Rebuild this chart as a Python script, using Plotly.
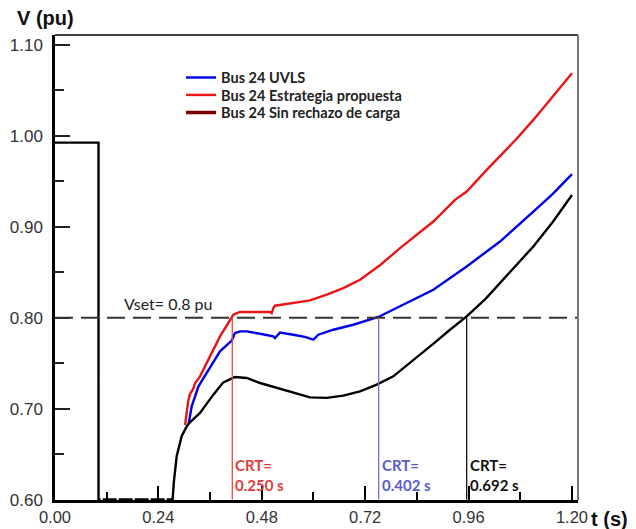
import plotly.graph_objects as go

# ---------------- data ----------------
series_names = ["Bus 24 UVLS", "Bus 24 Estrategia propuesta", "Bus 24 Sin rechazo de carga"]

t_sin = [0.0, 0.101, 0.101, 0.273, 0.276, 0.2825, 0.294, 0.3057, 0.3134, 0.3366, 0.3675,
         0.383, 0.3907, 0.4178, 0.445, 0.4759, 0.5146, 0.5532, 0.5919, 0.6307, 0.6692,
         0.708, 0.7467, 0.7853, 0.824, 0.8473, 0.880, 0.9169, 0.9556, 1.000, 1.033,
         1.070, 1.1103, 1.155, 1.200]
v_sin = [0.9926, 0.9926, 0.600, 0.600, 0.620, 0.6476, 0.6696, 0.6805, 0.685, 0.6953, 0.7154,
         0.7245, 0.7289, 0.7348, 0.7337, 0.7282, 0.7227, 0.7172, 0.7124, 0.7118, 0.7143,
         0.719, 0.7264, 0.7355, 0.7502, 0.7593, 0.772, 0.7868, 0.8014, 0.821, 0.8381,
         0.857, 0.8784, 0.905, 0.935]

t_prop = [0.302, 0.306, 0.309, 0.3134, 0.3209, 0.325, 0.3366, 0.3598, 0.383, 0.4023, 0.4139,
          0.4294, 0.465, 0.4991, 0.503, 0.507, 0.5107, 0.5532, 0.5919, 0.6307, 0.6692,
          0.708, 0.755, 0.8009, 0.8782, 0.9285, 0.9556, 1.002, 1.033, 1.070, 1.1103,
          1.155, 1.200]
v_prop = [0.682, 0.695, 0.708, 0.716, 0.722, 0.728, 0.7355, 0.7575, 0.7795, 0.7942, 0.8033,
          0.8063, 0.806, 0.8063, 0.805, 0.811, 0.8132, 0.8162, 0.819, 0.8253, 0.8326,
          0.8418, 0.858, 0.8766, 0.9058, 0.9297, 0.9388, 0.9626, 0.9773, 0.996, 1.0176,
          1.043, 1.069]

t_uvls = [0.310, 0.3173, 0.333, 0.3443, 0.3598, 0.383, 0.4025, 0.4102, 0.4140, 0.4178, 0.430,
          0.445, 0.4759, 0.5067, 0.5107, 0.5223, 0.5532, 0.580, 0.5996, 0.6112, 0.646,
          0.6924, 0.7505, 0.8009, 0.8473, 0.8782, 0.9556, 1.033, 1.1103, 1.155, 1.200]
v_uvls = [0.683, 0.7025, 0.7245, 0.733, 0.7447, 0.763, 0.7715, 0.7747, 0.779, 0.7832, 0.785,
          0.785, 0.7824, 0.7795, 0.7777, 0.7838, 0.7813, 0.779, 0.7758, 0.7813, 0.7868,
          0.7923, 0.8008, 0.8124, 0.8234, 0.8308, 0.8564, 0.8838, 0.9168, 0.936, 0.958]

v_set = 0.8
vset_label = "Vset= 0.8 pu"
crt_cross_t = [0.4115, 0.7513, 0.9556]
crt_labels = ["0.250 s", "0.402 s", "0.692 s"]
crt_colors = ["#e23b3b", "#5b5bd0", "#111111"]
crt_line_colors = ["#e24a4a", "#7474c4", "#111111"]

# ---------------- styles ----------------
c_blue = "rgb(0,0,230)"
c_red = "rgb(232,22,22)"
c_maroon = "#7a0000"
c_black = "#000000"
lab_font = "Lato, 'Open Sans', sans-serif"
tick_font = "'Liberation Sans', Arial, sans-serif"

fig = go.Figure()
fig.add_trace(go.Scatter(x=t_prop, y=v_prop, mode="lines", name=series_names[1],
                         line=dict(color=c_red, width=2.4), legend="legend2"))
fig.add_trace(go.Scatter(x=t_uvls, y=v_uvls, mode="lines", name=series_names[0],
                         line=dict(color=c_blue, width=2.4), legend="legend"))
fig.add_trace(go.Scatter(x=t_sin, y=v_sin, mode="lines", name=series_names[2],
                         line=dict(color=c_black, width=2.4), showlegend=False))
# legend entry drawn in maroon as in the original figure
fig.add_trace(go.Scatter(x=[None], y=[None], mode="lines", name=series_names[2],
                         line=dict(color=c_maroon, width=3.5), legend="legend3"))

shapes = []
shapes.append(dict(type="line", xref="paper", yref="y", x0=0, x1=1, y0=v_set, y1=v_set,
                   line=dict(color="#333333", width=1.8, dash="18px,8px")))
for t, lc in zip(crt_cross_t, crt_line_colors):
    shapes.append(dict(type="line", xref="x", yref="y", x0=t, x1=t, y0=0.6, y1=v_set,
                       line=dict(color=lc, width=1.3)))
shapes.append(dict(type="line", xref="paper", yref="paper", x0=0, x1=1, y0=1, y1=1,
                   line=dict(color="#000000", width=1.6)))
shapes.append(dict(type="line", xref="paper", yref="paper", x0=1, x1=1, y0=0, y1=1,
                   line=dict(color="#777777", width=2)))
shapes.append(dict(type="line", xref="x", yref="y", x0=0.106, x1=0.268, y0=0.6, y1=0.6,
                   layer="above", line=dict(color="white", width=4, dash="2px,14px")))

annotations = []
annotations.append(dict(text="<b>V (pu)</b>", xref="paper", yref="paper", x=-0.0765, y=1.037,
                        xanchor="left", yanchor="middle", showarrow=False,
                        font=dict(family=tick_font, size=20, color="#111")))
annotations.append(dict(text="<b>t (s)</b>", xref="paper", yref="paper", x=1.021, y=-0.041,
                        xanchor="left", yanchor="middle", showarrow=False,
                        font=dict(family=tick_font, size=20, color="#111")))
annotations.append(dict(text=vset_label, xref="x", yref="y", x=0.2634, y=v_set,
                        xanchor="center", yanchor="middle", yshift=14, showarrow=False,
                        font=dict(family=lab_font, size=16, color="#222")))
for t, lab, col in zip(crt_cross_t, crt_labels, crt_colors):
    annotations.append(dict(text="<b>CRT=<br>" + lab + "</b>", xref="x", yref="y", x=t, y=0.6,
                            xanchor="left", yanchor="bottom", xshift=1, yshift=4,
                            align="left", showarrow=False,
                            font=dict(family=lab_font, size=15, color=col)))

leg_common = dict(x=0.241, xanchor="left", yanchor="top", bgcolor="rgba(0,0,0,0)",
                  font=dict(family=lab_font, size=14.5, color="#222", weight="bold"),
                  itemwidth=30)
leg_rows_px = [77, 94.5, 112]
leg_y = [(500 - (r - 15.5)) / 465 for r in leg_rows_px]

fig.update_layout(
    width=636, height=529,
    margin=dict(l=55, r=58, t=35, b=29, autoexpand=False),
    paper_bgcolor="white", plot_bgcolor="white",
    showlegend=True,
    legend=dict(leg_common, y=leg_y[0]),
    legend2=dict(leg_common, y=leg_y[1]),
    legend3=dict(leg_common, y=leg_y[2]),
    shapes=shapes, annotations=annotations,
    xaxis=dict(range=[0, 1.214], tick0=0, dtick=0.24, tickformat=".2f", automargin=False,
               showline=True, linecolor="black", linewidth=3, showgrid=False, zeroline=False,
               ticks="inside", ticklen=14, tickwidth=1.5, tickcolor="black",
               minor=dict(dtick=0.12, ticks="inside", ticklen=8, tickwidth=1.5, tickcolor="black"),
               tickfont=dict(family=tick_font, size=16.5, color="#333"), ticklabelstandoff=0),
    yaxis=dict(range=[0.5995, 1.111], tick0=0, dtick=0.1, tickformat=".2f", automargin=False,
               showline=True, linecolor="black", linewidth=2.5, showgrid=False, zeroline=False,
               ticks="inside", ticklen=15, tickwidth=1.5, tickcolor="#222",
               minor=dict(dtick=0.05, ticks="inside", ticklen=9, tickwidth=1.5, tickcolor="#222"),
               tickfont=dict(family=tick_font, size=17, color="#333"), ticklabelstandoff=6),
)

fig.write_html("out.html")
